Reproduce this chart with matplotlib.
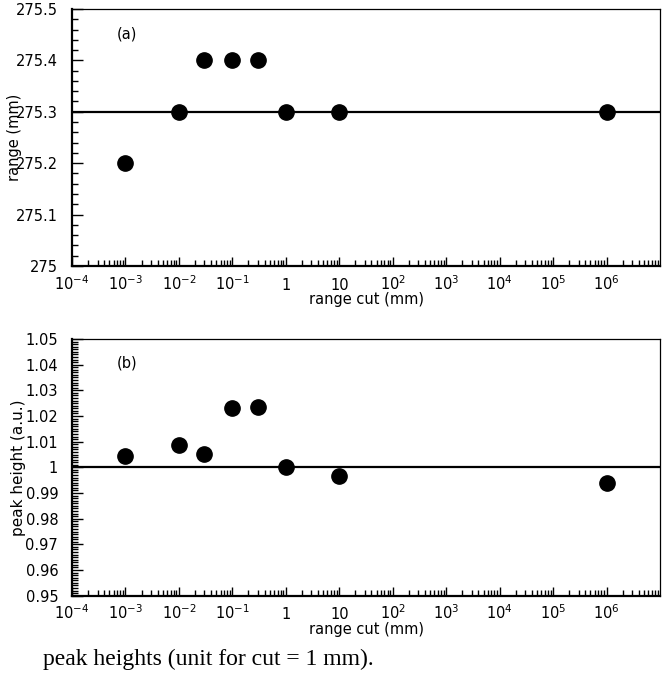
import math
import matplotlib
matplotlib.use("Agg")
import matplotlib.pyplot as plt
from matplotlib.ticker import FixedLocator, MultipleLocator, FuncFormatter, LogLocator, NullFormatter

plt.rcParams['font.family'] = ['DejaVu Sans']
plt.rcParams['mathtext.fontset'] = 'dejavusans'

# data
cuts = [1e-3, 1e-2, 3e-2, 1e-1, 3e-1, 1, 10, 1e6]
range_mm = [275.2, 275.3, 275.4, 275.4, 275.4, 275.3, 275.3, 275.3]
peak_height = [1.0044, 1.0086, 1.0053, 1.0232, 1.0236, 1.0, 0.9967, 0.9940]
range_ref = 275.3
peak_ref = 1.0
xticks = [1e-4, 1e-3, 1e-2, 1e-1, 1, 10, 1e2, 1e3, 1e4, 1e5, 1e6]


def xfmt(v, pos):
    if abs(v - 1) < 1e-9:
        return "1"
    if abs(v - 10) < 1e-9:
        return "10"
    e = int(round(math.log10(v)))
    return r"$\mathregular{10^{%d}}$" % e


def yfmt(v, pos):
    return "%g" % round(v, 4)


def style_axes(ax, ymin, ymax, ymaj, ymin_step):
    ax.set_xscale('log')
    ax.set_xlim(1e-4, 1e7)
    ax.set_ylim(ymin, ymax)
    ax.xaxis.set_major_locator(FixedLocator(xticks))
    ax.xaxis.set_major_formatter(FuncFormatter(xfmt))
    ax.xaxis.set_minor_locator(LogLocator(base=10, subs=range(2, 10), numticks=30))
    ax.xaxis.set_minor_formatter(NullFormatter())
    ax.yaxis.set_major_locator(MultipleLocator(ymaj))
    ax.yaxis.set_minor_locator(MultipleLocator(ymin_step))
    ax.yaxis.set_major_formatter(FuncFormatter(yfmt))
    ax.tick_params(which='both', direction='in', top=False, right=False, width=1)
    ax.tick_params(axis='y', which='major', length=8, labelsize=10.5, pad=10)
    ax.tick_params(axis='y', which='minor', length=4.3)
    ax.tick_params(axis='x', which='major', length=6.5, labelsize=10.5, pad=17)
    ax.tick_params(axis='x', which='minor', length=4.3)
    ax.spines['left'].set_linewidth(1.6)
    ax.spines['bottom'].set_linewidth(1.6)
    ax.spines['top'].set_linewidth(0.9)
    ax.spines['right'].set_linewidth(0.9)
    ax.set_xlabel("range cut (mm)", fontsize=10.5, va='baseline')
    ax.xaxis.set_label_coords(0.5, -0.15)


fig = plt.figure(figsize=(6.67, 6.75), dpi=100)

ax1 = fig.add_axes([0.108, 0.606, 0.8815, 0.3807])
ax1.axhline(range_ref, color='black', lw=1.6)
ax1.plot(cuts, range_mm, 'o', color='black', ms=11, zorder=3)
style_axes(ax1, 275.0, 275.5, 0.1, 0.02)
ax1.text(0.0765, 0.903, "(a)", transform=ax1.transAxes, fontsize=10.5, va='center')
fig.text(0.022, 0.796, "range (mm)", rotation=90, fontsize=10.5,
         ha='center', va='center')

ax2 = fig.add_axes([0.108, 0.1175, 0.8815, 0.3803])
ax2.axhline(peak_ref, color='black', lw=1.6)
ax2.plot(cuts, peak_height, 'o', color='black', ms=11, zorder=3)
style_axes(ax2, 0.95, 1.05, 0.01, 0.001)
ax2.text(0.0765, 0.907, "(b)", transform=ax2.transAxes, fontsize=10.5, va='center')
fig.text(0.028, 0.307, "peak height (a.u.)", rotation=90, fontsize=11,
         ha='center', va='center')

fig.text(0.0645, 0.0148, "peak heights (unit for cut = 1 mm).",
         family=['Liberation Serif', 'DejaVu Serif'], fontsize=17, va='baseline')

# x tick labels sit on a common baseline
fig.canvas.draw()
for ax in (ax1, ax2):
    for t in ax.xaxis.get_major_ticks():
        t.label1.set_verticalalignment('baseline')

fig.savefig("out.png", dpi=100)
